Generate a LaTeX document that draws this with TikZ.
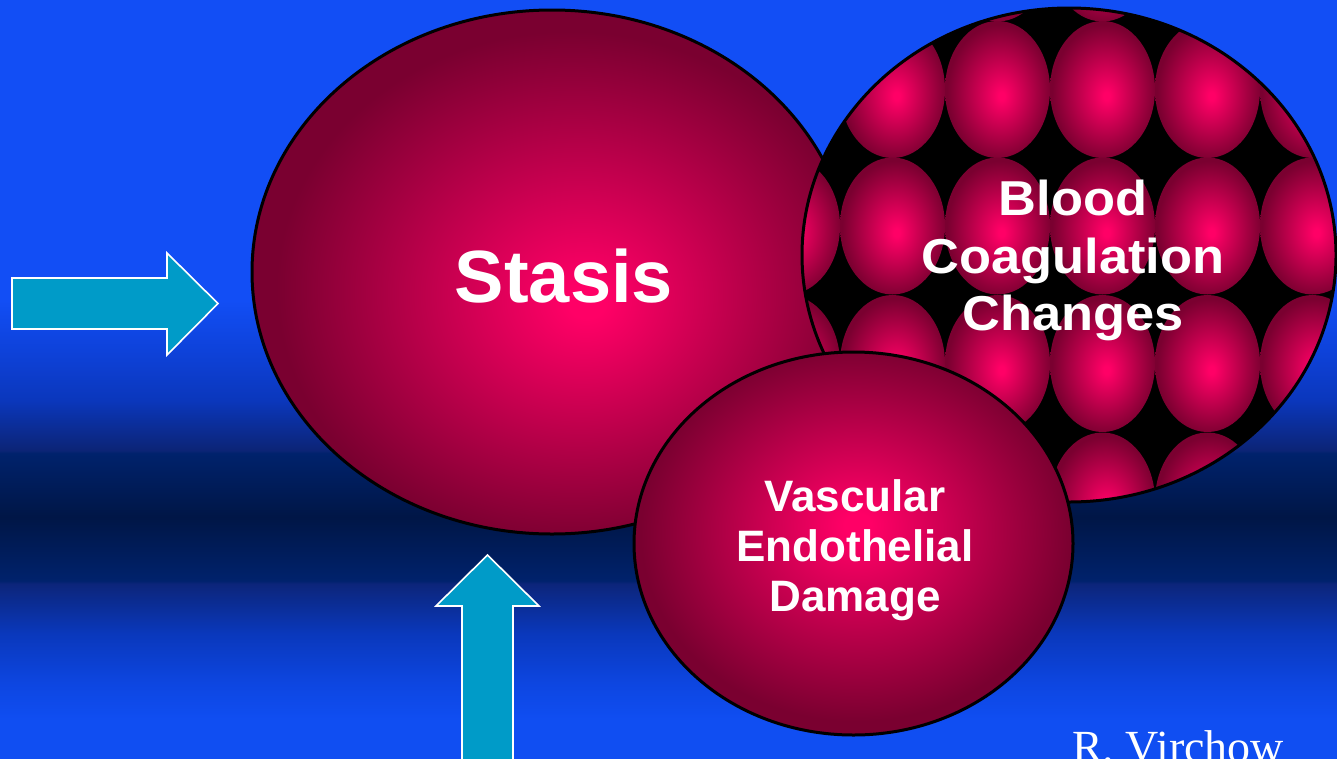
\documentclass[tikz,border=0pt]{standalone}
\usepackage{fontspec}
\setmainfont{Liberation Sans}
\newfontfamily\virchowfont{Liberation Serif}
\newfontfamily\widesans[FakeStretch=1.07]{Liberation Sans}
\usetikzlibrary{shapes.geometric}
\definecolor{arrowcyan}{RGB}{0,155,200}
\definecolor{ballhi}{RGB}{255,0,102}
\definecolor{balllo}{RGB}{122,0,48}
\definecolor{bgA}{RGB}{16,78,242}
\definecolor{bgB}{RGB}{13,70,225}
\definecolor{bgC}{RGB}{10,56,188}
\definecolor{bgD}{RGB}{12,37,122}
\definecolor{bgE}{RGB}{0,34,108}
\definecolor{bgF}{RGB}{0,22,70}
\definecolor{bgG}{RGB}{12,36,118}
\definecolor{bgH}{RGB}{11,55,188}
\definecolor{bgI}{RGB}{14,66,218}
\definecolor{bgJ}{RGB}{18,78,245}
\pgfdeclareverticalshading{bgshade}{100bp}{%
 color(0bp)=(bgA); color(25bp)=(bgA); color(27.5bp)=(bgA);
 color(29.9bp)=(bgB); color(33.2bp)=(bgC); color(36.5bp)=(bgD);
 color(36.7bp)=(bgE); color(40.9bp)=(bgF); color(45.1bp)=(bgE);
 color(45.3bp)=(bgG); color(48.6bp)=(bgH); color(51.9bp)=(bgI);
 color(55.2bp)=(bgJ); color(100bp)=(bgJ)}
\pgfdeclareradialshading{stasisball}{\pgfpoint{3bp}{-3bp}}{%
 color(0bp)=(ballhi); color(1.5bp)=(ballhi); color(24.5bp)=(balllo); color(50bp)=(balllo)}
\pgfdeclareradialshading{vascball}{\pgfpoint{0.5bp}{2.5bp}}{%
 color(0bp)=(ballhi); color(1.5bp)=(ballhi); color(24.5bp)=(balllo); color(50bp)=(balllo)}
\pgfdeclareradialshading{cellball}{\pgfpoint{2bp}{-2.5bp}}{%
 color(0bp)=(ballhi); color(1.5bp)=(ballhi); color(25bp)=(balllo); color(50bp)=(balllo)}
\begin{document}
\begin{tikzpicture}[x=1pt,y=-1pt,
  ball/.style={ellipse, draw=black, line width=3pt, inner sep=0pt},
  blockarrow/.style={fill=arrowcyan, draw=white, line width=1.6pt, line join=miter},
  lbl/.style={text=white, font=\bfseries, align=center, inner sep=0pt}]
\useasboundingbox (0,0) rectangle (1337,758);
\shade[shading=bgshade] (0,0) rectangle (1337,758);
% Stasis
\node[ball, shade, shading=stasisball, minimum width=600pt, minimum height=524pt] (stasis) at (552,272) {};
% Blood coagulation circle with cell pattern (coordinates relative to its centre)
\node[ball, fill=black, minimum width=534pt, minimum height=494pt,
  path picture={
    \foreach \cx in {-281.5,-176.5,-71.5,33.5,138.5,243.5}
      \foreach \cy in {-302,-165.5,-29,108.5,246}
        \shade[shading=cellball] (\cx,\cy) ellipse [x radius=52.5, y radius=68.5];
  }] (blood) at (1069,255) {};
% Vascular
\node[ball, shade, shading=vascball, minimum width=439pt, minimum height=383pt] (vasc) at (853.5,543.5) {};
% labels
\node[lbl, font=\bfseries\fontsize{74}{80}\selectfont, anchor=base] (stasislbl) at (564,302) {Stasis};
\node[lbl, font=\widesans\bfseries\fontsize{49}{57.5}\selectfont] (bloodlbl) at (1073,260.5) {Blood\\Coagulation\\Changes};
\node[lbl, font=\bfseries\fontsize{44}{50}\selectfont] (vasclbl) at (855,550) {Vascular\\Endothelial\\Damage};
\node[text=white, font=\virchowfont\fontsize{46}{50}\selectfont, anchor=base west, inner sep=0pt] (author) at (1072,762) {R. Virchow};
% block arrows
\draw[blockarrow] (12,278) -- (167,278) -- (167,253) -- (218,303.5) -- (167,355) -- (167,329) -- (12,329) -- cycle;
\draw[blockarrow] (462,766) -- (462,606) -- (436,606) -- (487.5,555) -- (539,606) -- (513,606) -- (513,766) -- cycle;
\end{tikzpicture}
\end{document}
